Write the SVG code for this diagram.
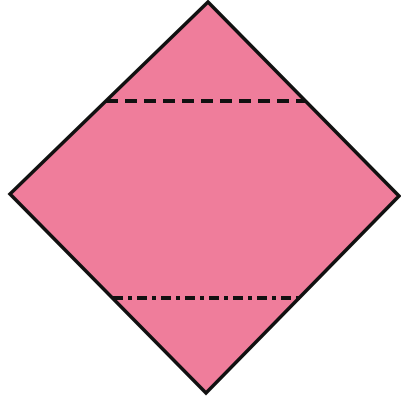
<svg xmlns="http://www.w3.org/2000/svg" width="401" height="403" viewBox="0 0 401 403">
<style>
.paper{fill:#EF7D9B;stroke:#111;stroke-width:3.5;stroke-linejoin:miter}
.fold{stroke:#111;stroke-width:4;fill:none}
.valley{stroke-dasharray:12,7}
.mountain{stroke-dasharray:10,5,4,5}
</style>
<rect width="401" height="403" fill="#fff"/>
<g id="square">
<polygon class="paper" points="208,2 399,196 206,393 10,194"/>
</g>
<g id="folds">
<line class="fold valley" x1="106" y1="101" x2="306" y2="101"/>
<line class="fold mountain" x1="113" y1="298" x2="300" y2="298"/>
</g>
</svg>
